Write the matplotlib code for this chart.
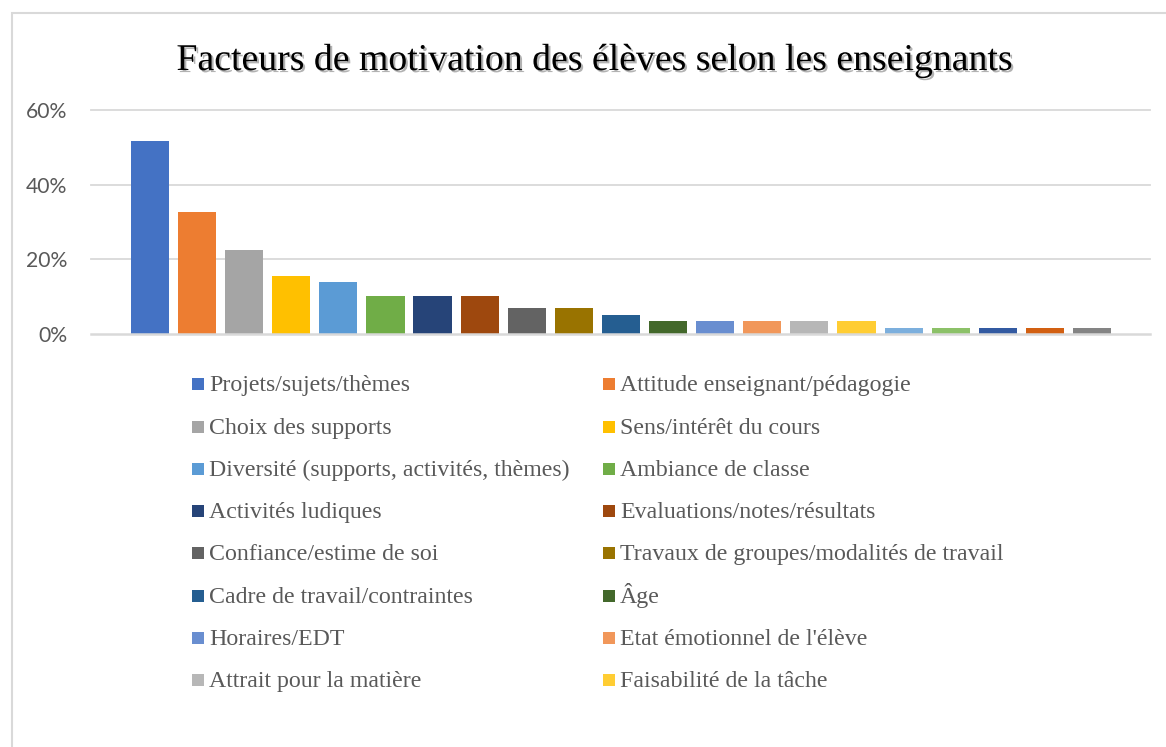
import matplotlib
matplotlib.use("Agg")
import matplotlib.pyplot as plt
import matplotlib.patheffects as pe
from matplotlib.patches import Rectangle
from matplotlib.ticker import FuncFormatter

categories = [
    "Projets/sujets/thèmes", "Attitude enseignant/pédagogie",
    "Choix des supports", "Sens/intérêt du cours",
    "Diversité (supports, activités, thèmes)", "Ambiance de classe",
    "Activités ludiques", "Evaluations/notes/résultats",
    "Confiance/estime de soi", "Travaux de groupes/modalités de travail",
    "Cadre de travail/contraintes", "Âge",
    "Horaires/EDT", "Etat émotionnel de l'élève",
    "Attrait pour la matière", "Faisabilité de la tâche",
    "Facteur 17", "Facteur 18", "Facteur 19", "Facteur 20", "Facteur 21",
]
values = [0.517, 0.328, 0.224, 0.155, 0.138, 0.103, 0.103, 0.103, 0.069, 0.069,
          0.052, 0.034, 0.034, 0.034, 0.034, 0.034, 0.017, 0.017, 0.017, 0.017, 0.017]
colors = ["#4472C4", "#ED7D31", "#A5A5A5", "#FFC000", "#5B9BD5", "#70AD47",
          "#264478", "#9E480E", "#636363", "#997300", "#255E91", "#43682B",
          "#698ED0", "#F1975A", "#B7B7B7", "#FFCD33", "#7CAFDD", "#8CC168",
          "#335AA1", "#D26012", "#848484"]
yticks = [0, 0.2, 0.4, 0.6]
n_legend_visible = 16
title = "Facteurs de motivation des élèves selon les enseignants"

W, H = 1166, 747
fig = plt.figure(figsize=(W / 100, H / 100), dpi=100)

def fx(px):
    return px / W

def fy(py):
    return 1 - py / H

# chart border
fig.patches.append(Rectangle((fx(12), fy(H + 20)), fx(W + 20) - fx(12), fy(13) - fy(H + 20),
                             transform=fig.transFigure, fill=False,
                             edgecolor="#D9D9D9", linewidth=1.5))

ax = fig.add_axes([fx(91), fy(334), fx(1150) - fx(91), fy(110) - fy(334)])
x = list(range(len(values)))
ax.bar(x, values, width=0.81, color=colors, zorder=3)
ax.set_xlim(-1.25, len(values) - 1 + 1.23)
ax.set_ylim(0, 0.6)
ax.set_yticks(yticks)
ax.yaxis.set_major_formatter(FuncFormatter(lambda v, p: f"{v * 100:.0f}%"))
ax.tick_params(axis="y", length=0, pad=17, labelsize=15.2, labelcolor="#595959")
for lab in ax.get_yticklabels():
    lab.set_fontfamily("Lato")
ax.set_xticks([])
for s in ax.spines.values():
    s.set_visible(False)
for t in yticks[1:]:
    ax.axhline(t, color="#D9D9D9", linewidth=1.3, zorder=1, clip_on=False)
ax.axhline(0, color="#D9D9D9", linewidth=1.8, zorder=4, clip_on=False)

fig.text(fx(594.5), fy(70), title, ha="center", va="baseline",
         fontfamily="Liberation Serif", fontsize=27.2, color="black",
         path_effects=[pe.withSimplePatchShadow(offset=(1.5, -1.5),
                                                shadow_rgbFace="#808080", alpha=0.6)])

# legend (row-wise, two columns; only the first rows are visible in the frame)
row_y = [384, 427, 469, 511, 553, 596, 638, 680]
col_marker_x = [192, 603]
col_text_x = [209, 620]
for i in range(n_legend_visible):
    r, c = divmod(i, 2)
    yc = row_y[r]
    fig.patches.append(Rectangle((fx(col_marker_x[c]), fy(yc + 6)), fx(12), fy(0) - fy(12),
                                 transform=fig.transFigure, facecolor=colors[i],
                                 edgecolor="none"))
    fig.text(fx(col_text_x[c]), fy(yc + 7), categories[i], ha="left", va="baseline",
             fontfamily="Liberation Serif", fontsize=17.2, color="#595959")

fig.savefig("out.png", dpi=100)
